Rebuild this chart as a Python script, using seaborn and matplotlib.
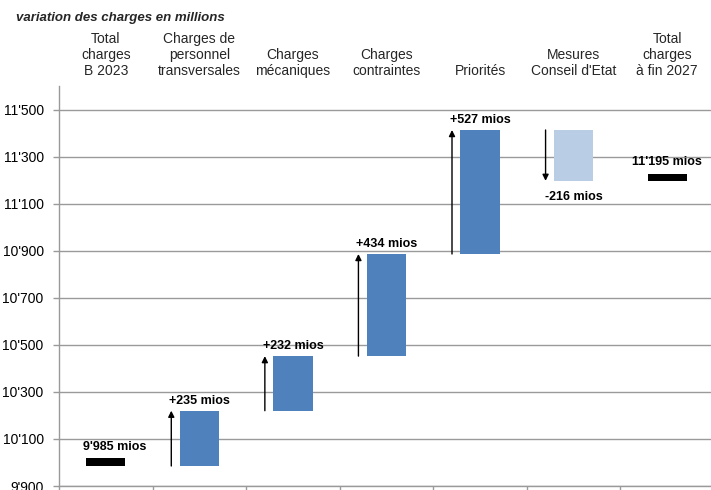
import matplotlib
matplotlib.use("Agg")
import matplotlib.pyplot as plt
from matplotlib.ticker import FuncFormatter, FixedLocator
import numpy as np
import pandas as pd
import seaborn as sns

# Chart data
categories = [
    "Total\ncharges\nB 2023",
    "Charges de\npersonnel\ntransversales",
    "Charges\nmécaniques",
    "Charges\ncontraintes",
    "Priorités",
    "Mesures\nConseil d'Etat",
    "Total\ncharges\nà fin 2027",
]
kinds = ["total", "delta", "delta", "delta", "delta", "delta", "total"]
values = [9985, 235, 232, 434, 527, -216, 11195]
y_ticks = [9900, 10100, 10300, 10500, 10700, 10900, 11100, 11300, 11500]
title = "variation des charges en millions"

# Styling
BLUE = "#4F81BD"
LIGHT_BLUE = "#B9CDE5"
GRID = "#9a9a9a"
MARKER_H = 32  # thickness of the total markers, in data units

sns.set_theme(style="white")
plt.rcParams["font.family"] = ["Liberation Sans", "DejaVu Sans"]

# Waterfall geometry derived from the values
bottoms, heights, colors = [], [], []
running = 0
for kind, v in zip(kinds, values):
    if kind == "total":
        bottoms.append(v)
        heights.append(MARKER_H)
        colors.append("black")
        running = v
    else:
        bottoms.append(running)
        heights.append(v)
        colors.append(BLUE if v > 0 else LIGHT_BLUE)
        running += v

df = pd.DataFrame({"cat": categories, "h": heights})

fig = plt.figure(figsize=(7.11, 4.90), dpi=100)
ax = fig.add_axes([59 / 711, 4 / 490, 655 / 711, 400 / 490])

sns.barplot(data=df, x="cat", y="h", order=categories, bottom=np.array(bottoms),
            width=0.42, errorbar=None, ax=ax, linewidth=0, color=BLUE, saturation=1)
for patch, c in zip(ax.patches, colors):
    patch.set_facecolor(c)
    patch.set_edgecolor(c)

ax.set_xlim(-0.5, len(categories) - 0.5)
ax.set_ylim(9900, 11600)
ax.set_xlabel("")
ax.set_ylabel("")

# y axis with apostrophe thousands separator
ax.yaxis.set_major_locator(FixedLocator(y_ticks))
ax.yaxis.set_major_formatter(FuncFormatter(lambda v, p: f"{v:,.0f}".replace(",", "'")))
ax.tick_params(axis="y", which="major", left=True, length=4, width=1, color=GRID,
               labelsize=10, pad=7, labelcolor="black")
ax.yaxis.grid(True, color=GRID, linewidth=1)
ax.set_axisbelow(True)

# category labels on top, boundary ticks at the bottom
ax.tick_params(axis="x", which="major", bottom=False, top=False,
               labelbottom=False, labeltop=True, labelsize=10, pad=0)
for lbl in ax.get_xticklabels():
    lbl.set_linespacing(1.15)
    lbl.set_multialignment("center")
ax.xaxis.set_minor_locator(FixedLocator(np.arange(-0.5, len(categories), 1.0)))
ax.tick_params(axis="x", which="minor", bottom=True, length=4, width=1, color=GRID)

for side in ["top", "right"]:
    ax.spines[side].set_visible(False)
for side in ["left", "bottom"]:
    ax.spines[side].set_color(GRID)
    ax.spines[side].set_linewidth(1)

# arrows and value labels
label_kw = dict(fontsize=9, fontweight="bold", color="black")
for i, (kind, v) in enumerate(zip(kinds, values)):
    b = bottoms[i]
    if kind == "total":
        dx = 0.1 if i == 0 else 0.0
        ax.annotate(f"{v:,.0f} mios".replace(",", "'"), xy=(i + dx, b + MARKER_H),
                    xytext=(0, 4), textcoords="offset points",
                    ha="center", va="bottom", **label_kw)
    else:
        top = b + v
        ax.annotate("", xy=(i - 0.3, top), xytext=(i - 0.3, b),
                    arrowprops=dict(arrowstyle="-|>", color="black", lw=1,
                                    mutation_scale=9, shrinkA=0, shrinkB=0))
        if v > 0:
            ax.annotate(f"+{v} mios", xy=(i, top), xytext=(0, 3),
                        textcoords="offset points", ha="center", va="bottom", **label_kw)
        else:
            ax.annotate(f"{v} mios", xy=(i, top), xytext=(0, -7),
                        textcoords="offset points", ha="center", va="top", **label_kw)

fig.text(16 / 711, 1 - 21 / 490, title, fontsize=9.5, fontweight="bold",
         fontstyle="italic", ha="left", va="baseline")

fig.savefig("out.png", dpi=100)
